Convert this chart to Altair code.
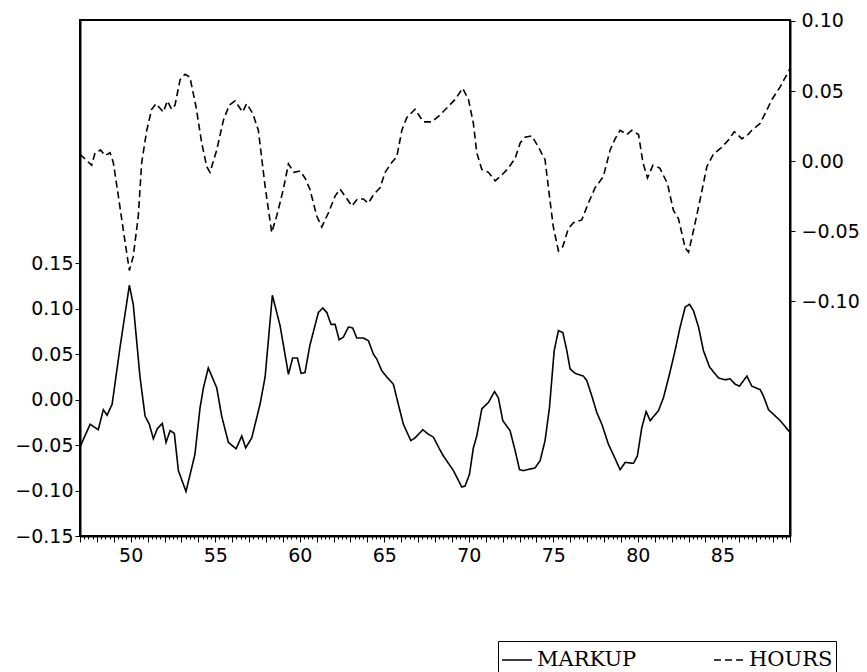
import altair as alt
import pandas as pd

# MARKUP (left axis)
markup_years = [47.0, 47.6, 48.08, 48.38, 48.6, 48.9, 49.37, 49.92, 50.15, 50.55, 50.85, 51.1, 51.34, 51.57,
                51.87, 52.09, 52.33, 52.58, 52.82, 53.27, 53.8, 54.1, 54.3, 54.59, 55.09, 55.38, 55.78, 56.23,
                56.57, 56.8, 57.16, 57.65, 57.95, 58.38, 58.83, 59.33, 59.58, 59.86, 60.08, 60.31, 60.6, 61.1,
                61.36, 61.6, 61.85, 62.09, 62.33, 62.58, 62.88, 63.13, 63.37, 63.76, 64.06, 64.36, 64.55, 64.85,
                65.15, 65.54, 65.83, 66.13, 66.57, 66.82, 67.28, 67.61, 67.9, 68.26, 68.5, 69.09, 69.58, 69.78,
                70.04, 70.27, 70.47, 70.77, 71.16, 71.52, 71.75, 72.01, 72.44, 72.74, 73.0, 73.23, 73.92, 74.22,
                74.51, 74.77, 75.05, 75.3, 75.56, 75.8, 75.99, 76.29, 76.78, 76.98, 77.28, 77.57, 77.87, 78.26,
                78.66, 78.95, 79.25, 79.74, 79.97, 80.23, 80.49, 80.73, 81.22, 81.51, 81.87, 82.2, 82.5, 82.8,
                83.05, 83.29, 83.59, 83.88, 84.24, 84.77, 85.17, 85.46, 85.76, 86.01, 86.45, 86.74, 87.24, 87.43,
                87.73, 88.02, 88.42, 89.0]
markup_values = [-0.052, -0.027, -0.033, -0.011, -0.017, -0.005, 0.058, 0.126, 0.105, 0.025, -0.018, -0.027,
                 -0.043, -0.032, -0.026, -0.047, -0.034, -0.037, -0.078, -0.101, -0.060, -0.009, 0.013, 0.035,
                 0.013, -0.018, -0.047, -0.054, -0.040, -0.053, -0.042, -0.005, 0.025, 0.115, 0.082, 0.028,
                 0.046, 0.046, 0.029, 0.030, 0.060, 0.096, 0.101, 0.096, 0.083, 0.083, 0.066, 0.069, 0.080,
                 0.079, 0.068, 0.068, 0.065, 0.050, 0.045, 0.032, 0.025, 0.017, -0.005, -0.027, -0.045, -0.042,
                 -0.033, -0.038, -0.041, -0.054, -0.062, -0.078, -0.096, -0.095, -0.082, -0.053, -0.040, -0.010,
                 -0.003, 0.009, 0.002, -0.023, -0.034, -0.056, -0.077, -0.078, -0.075, -0.067, -0.045, -0.009,
                 0.054, 0.076, 0.074, 0.054, 0.034, 0.029, 0.026, 0.021, 0.004, -0.014, -0.027, -0.049, -0.065,
                 -0.077, -0.069, -0.070, -0.062, -0.031, -0.013, -0.023, -0.012, 0.002, 0.028, 0.054, 0.080,
                 0.102, 0.105, 0.098, 0.080, 0.054, 0.036, 0.024, 0.022, 0.023, 0.017, 0.015, 0.026, 0.015,
                 0.011, 0.004, -0.011, -0.016, -0.023, -0.036]

# HOURS (right axis)
hours_years = [47.0, 47.69, 47.89, 48.22, 48.48, 48.78, 48.97, 49.27, 49.56, 49.92, 50.15, 50.45, 50.65, 50.95,
               51.24, 51.5, 51.93, 52.17, 52.42, 52.62, 52.92, 53.21, 53.5, 53.86, 54.2, 54.5, 54.69, 55.09,
               55.48, 55.83, 56.17, 56.62, 56.86, 57.22, 57.55, 57.95, 58.34, 58.64, 59.03, 59.33, 59.66, 60.02,
               60.31, 60.6, 61.0, 61.3, 61.69, 62.09, 62.38, 62.74, 63.08, 63.41, 63.76, 64.06, 64.36, 64.75,
               65.05, 65.44, 65.74, 66.04, 66.33, 66.82, 67.31, 67.81, 68.3, 68.79, 69.19, 69.64, 69.98, 70.27,
               70.47, 70.77, 71.16, 71.56, 71.95, 72.34, 72.74, 73.04, 73.33, 73.73, 74.12, 74.51, 74.77, 75.0,
               75.3, 75.56, 75.89, 76.19, 76.68, 77.07, 77.47, 77.96, 78.36, 78.66, 78.95, 79.35, 79.64, 80.04,
               80.3, 80.57, 80.89, 81.3, 81.75, 82.1, 82.4, 82.8, 83.0, 83.3, 83.69, 84.08, 84.47, 84.97, 85.36,
               85.7, 86.15, 86.45, 86.74, 87.24, 87.53, 87.93, 88.42, 89.0]
hours_values = [0.005, -0.003, 0.006, 0.008, 0.004, 0.006, -0.001, -0.025, -0.049, -0.078, -0.068, -0.039,
                -0.001, 0.022, 0.037, 0.041, 0.035, 0.043, 0.037, 0.040, 0.058, 0.062, 0.060, 0.039, 0.013,
                -0.004, -0.008, 0.008, 0.029, 0.040, 0.043, 0.035, 0.041, 0.034, 0.022, -0.018, -0.051, -0.039,
                -0.020, -0.002, -0.008, -0.007, -0.012, -0.020, -0.039, -0.047, -0.037, -0.025, -0.020, -0.026,
                -0.032, -0.027, -0.027, -0.030, -0.024, -0.019, -0.008, -0.001, 0.003, 0.022, 0.031, 0.037,
                0.028, 0.028, 0.033, 0.039, 0.044, 0.052, 0.044, 0.027, 0.006, -0.006, -0.008, -0.014, -0.010,
                -0.005, 0.002, 0.013, 0.017, 0.018, 0.010, 0.001, -0.025, -0.047, -0.064, -0.061, -0.048,
                -0.044, -0.042, -0.030, -0.019, -0.011, 0.008, 0.016, 0.022, 0.019, 0.022, 0.019, -0.001,
                -0.012, -0.003, -0.005, -0.016, -0.035, -0.041, -0.062, -0.065, -0.049, -0.027, -0.004, 0.005,
                0.010, 0.015, 0.021, 0.016, 0.018, 0.022, 0.027, 0.034, 0.044, 0.053, 0.066]

series_names = ["MARKUP", "HOURS"]
left_ticks = [-0.15, -0.10, -0.05, 0.00, 0.05, 0.10, 0.15]
right_ticks = [-0.10, -0.05, 0.00, 0.05, 0.10]
x_ticks = [47 + i * 0.25 for i in range(169)]

mk = pd.DataFrame({"year": markup_years, "value": markup_values, "series": series_names[0]})
hr = pd.DataFrame({"year": hours_years, "value": hours_values, "series": series_names[1]})

x_enc = alt.X(
    "year:Q",
    title=None,
    scale=alt.Scale(domain=[47, 89], nice=False, zero=False),
    axis=alt.Axis(
        values=x_ticks,
        labelExpr="datum.value % 5 === 0 ? format(datum.value, 'd') : ''",
        labelOverlap=False,
        labelFlush=False,
        tickSize={"condition": {"test": "datum.value % 1 === 0", "value": 6}, "value": 3},
        labelPadding=4,
    ),
)

dash = alt.StrokeDash(
    "series:N",
    scale=alt.Scale(domain=series_names, range=[[1, 0], [7, 4]]),
    legend=alt.Legend(
        title=None,
        orient="none",
        legendX=418,
        legendY=621,
        direction="horizontal",
        columns=2,
        columnPadding=74,
        symbolType="stroke",
        symbolSize=900,
        symbolStrokeWidth=1.5,
        symbolStrokeColor="black",
        labelFont="DejaVu Serif",
        labelFontSize=21,
        labelColor="black",
        labelOffset=4,
        strokeColor="black",
        fillColor="white",
        padding=3,
    ),
)

markup = alt.Chart(mk).mark_line(color="black", strokeWidth=1.6).encode(
    x=x_enc,
    y=alt.Y(
        "value:Q",
        title=None,
        scale=alt.Scale(domain=[-0.15, 0.418], nice=False, zero=False),
        axis=alt.Axis(values=left_ticks, format=".2f", orient="left", tickSize=5, labelPadding=2),
    ),
    strokeDash=dash,
)

hours = alt.Chart(hr).mark_line(color="black", strokeWidth=1.6).encode(
    x=x_enc,
    y=alt.Y(
        "value:Q",
        title=None,
        scale=alt.Scale(domain=[-0.2675, 0.1007], nice=False, zero=False),
        axis=alt.Axis(values=right_ticks, format=".2f", orient="right", tickSize=5, labelPadding=6),
    ),
    strokeDash=dash,
)

chart = (
    alt.layer(markup, hours)
    .resolve_scale(y="independent")
    .properties(
        width=710,
        height=516,
        autosize=alt.AutoSizeParams(type="none"),
        padding={"left": 72, "top": 12, "right": 69, "bottom": 150},
        background="white",
    )
    .configure_view(stroke="black", strokeWidth=2)
    .configure_axis(
        grid=False,
        domainColor="black",
        domainWidth=2,
        tickColor="black",
        tickWidth=1,
        labelColor="black",
        labelFont="DejaVu Sans",
        labelFontSize=19,
    )
)

chart.save("out.html", embed_options={"renderer": "svg", "actions": False})
